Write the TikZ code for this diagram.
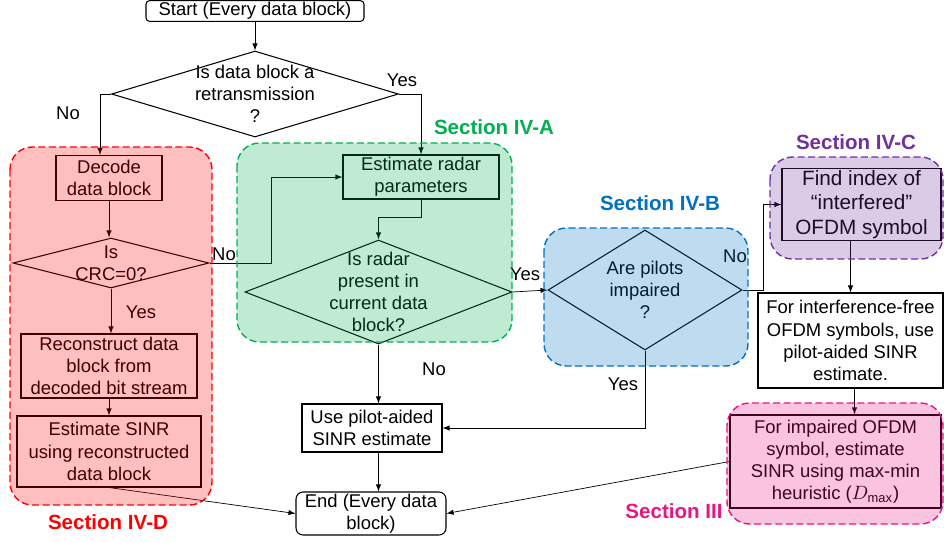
\documentclass[tikz,border=0pt]{standalone}
\usepackage{fontspec}
\setmainfont{Liberation Sans}
\usetikzlibrary{positioning,shapes}
\usetikzlibrary{arrows}
\usepackage{amsmath}

\definecolor{secred}{RGB}{255,0,0}
\definecolor{secgreen}{RGB}{0,176,80}
\definecolor{secblue}{RGB}{0,112,192}
\definecolor{secpurple}{RGB}{112,48,160}
\definecolor{secpink}{RGB}{235,20,130}

\begin{document}
\begin{tikzpicture}[x=0.02cm,y=-0.02cm,>=latex]
    \tikzstyle{every node} = [font=\fontsize{10.5}{12.6}\selectfont]
    \tikzstyle{box} = [draw,shape=rectangle,align=center,inner sep=1pt,line width=0.6pt]
    \tikzstyle{decision} = [draw,shape=diamond,inner sep=0pt,line width=0.6pt]
    \tikzstyle{region} = [dash pattern=on 4pt off 2pt,rounded corners=0.45cm,fill opacity=0.25,line width=0.8pt]
    \tikzstyle{sec} = [font=\fontsize{11.7}{14}\selectfont\bfseries]
    \useasboundingbox (0,0) rectangle (944,542);

    % boxes and decisions
    \node[box,rounded corners=2pt,minimum width=4.36cm,minimum height=0.36cm] (start) at (255,11) {Start (Every data block)};
    \node[decision,minimum width=5.74cm,minimum height=1.72cm,label={[align=center]center:Is data block a\\retransmission\\?}] (retx) at (255,94) {};
    \node[box,minimum width=2.12cm,minimum height=0.9cm] (decode) at (109,178) {Decode\\data block};
    \node[decision,minimum width=3.92cm,minimum height=1.0cm,label={[align=center]center:Is\\CRC=0?}] (crc) at (111,263) {};
    \node[box,minimum width=3.52cm,minimum height=1.28cm] (recon) at (109,366) {Reconstruct data\\block from\\decoded bit stream};
    \node[box,minimum width=3.68cm,minimum height=1.42cm] (estsinr) at (109,451.5) {Estimate SINR\\using reconstructed\\data block};
    \node[box,minimum width=3.12cm,minimum height=0.88cm] (estradar) at (421,177) {Estimate radar\\parameters};
    \node[decision,minimum width=5.34cm,minimum height=2.08cm,label={[align=center]center:Is radar\\present in\\current data\\block?}] (radar) at (378.5,292) {};
    \node[decision,minimum width=3.88cm,minimum height=2.4cm,label={[align=center]center:Are pilots\\impaired\\?}] (pilots) at (645,290) {};
    \node[box,minimum width=2.8cm,minimum height=0.96cm] (usepilot) at (372,428) {Use pilot-aided\\SINR estimate};
    \node[box,rounded corners=4pt,minimum width=3.0cm,minimum height=0.86cm] (end) at (371,513.5) {End (Every data\\block)};
    \node[box,font=\fontsize{11.8}{13.8}\selectfont,minimum width=3.18cm,minimum height=1.42cm] (findidx) at (861.5,204.5) {Find index of\\“interfered”\\OFDM symbol};
    \node[box,minimum width=3.7cm,minimum height=1.9cm] (interf) at (850.5,340.5) {For interference-free\\OFDM symbols, use\\pilot-aided SINR\\estimate.};
    \node[box,minimum width=4.22cm,minimum height=1.86cm] (impaired) at (835.5,461.5) {For impaired OFDM\\symbol, estimate\\SINR using max-min\\heuristic ($D_{\max}$)};

    % yes / no
    \node (noretx) at (68,113) {No};
    \node (yesretx) at (402,80) {Yes};
    \node (yescrc) at (141,312) {Yes};
    \node (nocrc) at (224,254) {No};
    \node (yesradar) at (525,274) {Yes};
    \node (noradar) at (434,369) {No};
    \node (nopilots) at (735,256) {No};
    \node (yespilots) at (623,384) {Yes};

    % connectors
    \draw [->] (start) -- (retx.north);
    \draw [->] (retx.west) -| ([xshift=-0.18cm]decode.north);
    \draw [->] (retx.east) -| (estradar.north);
    \draw [->] (decode.south) -- (decode.south |- crc.north);
    \draw [->] (crc.south) -- (crc.south |- recon.north);
    \draw [->] (recon) -- (estsinr);
    \draw [->] (estsinr.south) -- (end.west);
    \draw [->] (crc.east) -- ++(62,0) |- (estradar.west);
    \draw [->] (estradar.south) -- ++(0,18) -| (radar.north);
    \draw [->] (radar.east) -- (pilots.west);
    \draw [->] (radar.south) -- (radar.south |- usepilot.north);
    \draw [->] (pilots.east) -- ++(21,0) |- (findidx.west);
    \draw [->] (pilots.south) |- (usepilot.east);
    \draw [->] (interf.north |- findidx.south) -- (interf.north);
    \draw [->] ([xshift=0.08cm]interf.south) -- ([xshift=0.08cm]interf.south |- impaired.north);
    \draw [->] (impaired.west) -- (end.east);
    \draw [->] (radar.south |- usepilot.south) -- (radar.south |- end.north);

    % sections
    \filldraw[region,draw=secred,fill=secred] (10,147) rectangle (212,505);
    \filldraw[region,draw=secgreen,fill=secgreen] (237,143) rectangle (512,342);
    \filldraw[region,draw=secblue,fill=secblue] (544,228) rectangle (748,366);
    \filldraw[region,draw=secpurple,fill=secpurple] (770,157) rectangle (943,259);
    \filldraw[region,draw=secpink,fill=secpink] (727,403) rectangle (943,524);
    \node[sec,text=secred] (secIVD) at (108,522) {Section IV-D};
    \node[sec,text=secgreen] (secIVA) at (494,127) {Section IV-A};
    \node[sec,text=secblue] (secIVB) at (660,203) {Section IV-B};
    \node[sec,text=secpurple] (secIVC) at (856,142) {Section IV-C};
    \node[sec,text=secpink] (secIII) at (674,511) {Section III};
\end{tikzpicture}
\end{document}
